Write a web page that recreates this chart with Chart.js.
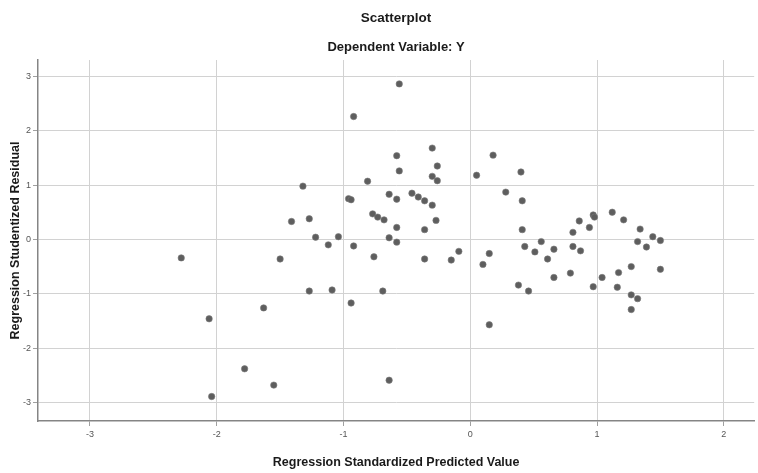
<!DOCTYPE html>
<html>
<head>
<meta charset="utf-8">
<title>Scatterplot</title>
<script src="https://cdn.jsdelivr.net/npm/chart.js@4.4.1/dist/chart.umd.min.js"></script>
<style>
  html, body { margin: 0; padding: 0; background: #fff; }
</style>
</head>
<body>
<canvas id="scatter" width="758" height="473"></canvas>
<script>
// values
const predicted = [
  -2.28, -2.06, -1.63, -1.78, -2.04, -1.55, -1.50, -1.41, -1.32, -1.27,
  -1.27, -1.22, -1.12, -1.09, -1.04, -0.96, -0.94, -0.94, -0.92, -0.92,
  -0.81, -0.77, -0.73, -0.68, -0.76, -0.69, -0.64, -0.64, -0.64, -0.58,
  -0.56, -0.56, -0.58, -0.58, -0.58, -0.46, -0.41, -0.36, -0.36, -0.36,
  -0.30, -0.30, -0.30, -0.26, -0.26, -0.27, -0.15, -0.09, 0.05, 0.10,
  0.15, 0.15, 0.18, 0.28, 0.40, 0.41, 0.41, 0.43, 0.38, 0.46,
  0.51, 0.56, 0.61, 0.66, 0.66, 0.79, 0.81, 0.81, 0.86, 0.87,
  0.94, 0.97, 0.98, 0.97, 1.04, 1.12, 1.16, 1.17, 1.21, 1.27,
  1.27, 1.27, 1.32, 1.32, 1.34, 1.39, 1.44, 1.50, 1.50
];
const residual = [
  -0.34, -1.46, -1.26, -2.38, -2.89, -2.68, -0.36, 0.33, 0.98, 0.38,
  -0.95, 0.04, -0.10, -0.93, 0.05, 0.75, 0.73, -1.17, 2.26, -0.12,
  1.07, 0.47, 0.41, 0.36, -0.32, -0.95, 0.83, 0.03, -2.59, 1.54,
  1.26, 2.86, 0.74, 0.22, -0.05, 0.85, 0.78, 0.71, 0.18, -0.36,
  1.68, 1.16, 0.63, 1.35, 1.08, 0.35, -0.38, -0.22, 1.18, -0.46,
  -0.26, -1.57, 1.55, 0.87, 1.24, 0.71, 0.18, -0.13, -0.84, -0.95,
  -0.23, -0.04, -0.36, -0.18, -0.70, -0.62, 0.13, -0.13, 0.34, -0.21,
  0.22, 0.45, 0.41, -0.87, -0.70, 0.50, -0.88, -0.61, 0.36, -0.50,
  -1.02, -1.29, -0.04, -1.09, 0.19, -0.14, 0.05, -0.02, -0.55
];
const xTicks = [-3, -2, -1, 0, 1, 2];
const yTicks = [-3, -2, -1, 0, 1, 2, 3];

const points = predicted.map((x, i) => ({ x: x, y: residual[i] }));

Chart.defaults.font.family = "'Liberation Sans', Arial, sans-serif";
Chart.defaults.color = "#333";

new Chart(document.getElementById("scatter"), {
  type: "scatter",
  data: {
    datasets: [
      {
        label: "Residual",
        data: points,
        backgroundColor: "#5e5e5e",
        borderColor: "#7a7a7a",
        borderWidth: 0.6,
        pointRadius: 3.2,
        pointHoverRadius: 3.2,
      },
    ],
  },
  options: {
    responsive: false,
    animation: false,
    layout: { padding: { top: 0, right: 1, bottom: 0, left: 0 } },
    plugins: {
      legend: { display: false },
      tooltip: { enabled: false },
      title: {
        display: true,
        text: "Scatterplot",
        fullSize: false,
        color: "#1a1a1a",
        font: { size: 13.5, weight: "bold" },
        padding: { top: 10, bottom: 6 },
      },
      subtitle: {
        display: true,
        text: "Dependent Variable: Y",
        fullSize: false,
        color: "#1a1a1a",
        font: { size: 13, weight: "bold" },
        padding: { top: 7, bottom: 5.2 },
      },
    },
    scales: {
      x: {
        type: "linear",
        min: -3.41,
        max: 2.24,
        afterBuildTicks: (s) => { s.ticks = xTicks.map((v) => ({ value: v })); },
        afterFit: (s) => { s.height = 52; },
        grid: { color: "#d2d2d2", lineWidth: 1, tickLength: 5, tickColor: "#a0a0a0" },
        border: { color: "#858585", width: 1.5 },
        ticks: { font: { size: 9 }, color: "#555", padding: 3, maxRotation: 0 },
        title: {
          display: true,
          text: "Regression Standardized Predicted Value",
          color: "#1a1a1a",
          font: { size: 12.5, weight: "bold" },
          padding: { top: 4, bottom: 3 },
        },
      },
      y: {
        type: "linear",
        min: -3.34,
        max: 3.30,
        afterBuildTicks: (s) => { s.ticks = yTicks.map((v) => ({ value: v })); },
        afterFit: (s) => { s.width = 38; },
        grid: { color: "#d2d2d2", lineWidth: 1, tickLength: 5, tickColor: "#a0a0a0" },
        border: { color: "#858585", width: 1.5 },
        ticks: { font: { size: 9 }, color: "#555", padding: 2 },
        title: {
          display: true,
          text: "Regression Studentized Residual",
          color: "#1a1a1a",
          font: { size: 12.5, weight: "bold" },
          padding: { top: 8, bottom: 0 },
        },
      },
    },
  },
});
</script>
</body>
</html>
